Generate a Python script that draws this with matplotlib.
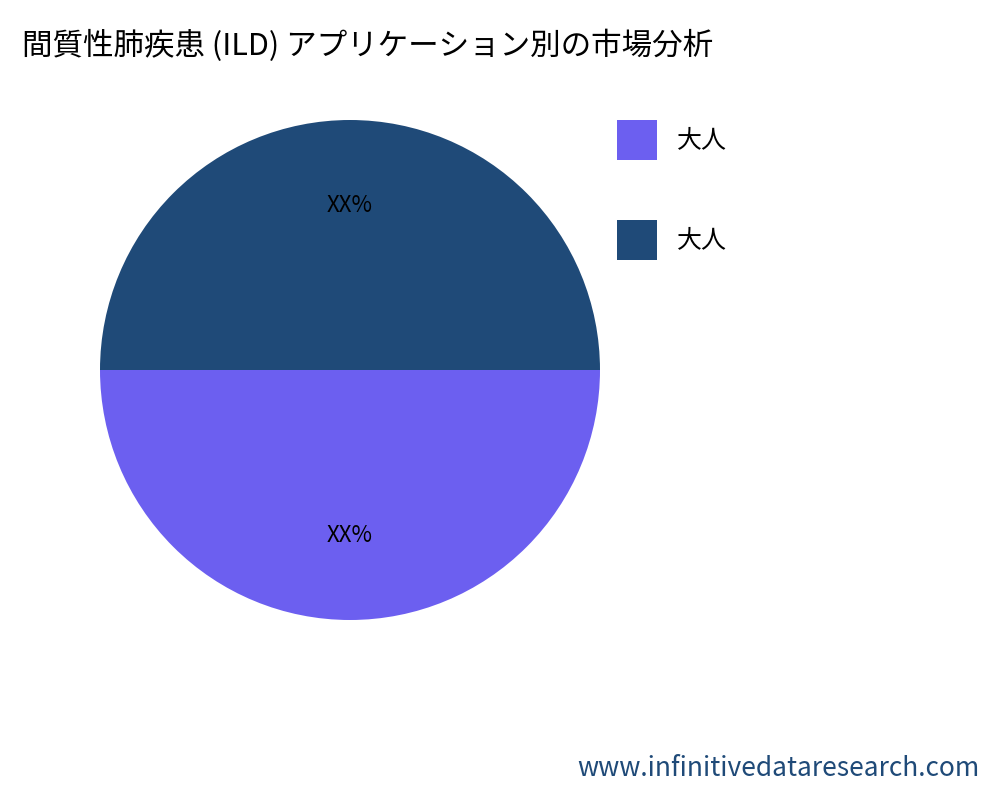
import matplotlib
matplotlib.use("Agg")
import matplotlib.pyplot as plt
from matplotlib.patches import Rectangle

plt.rcParams['font.family'] = ['Noto Sans CJK JP', 'DejaVu Sans']

title = "間質性肺疾患 (ILD) アプリケーション別の市場分析"
categories = ["大人", "大人"]
values = [50, 50]
labels = ["XX%", "XX%"]
colors = ["#6C5FF0", "#1F4A78"]

fig = plt.figure(figsize=(10, 8), dpi=100)
ax = fig.add_axes([0.10, 0.225, 0.5, 0.625])
ax.pie(values, colors=colors, startangle=180, counterclock=True,
       labels=labels, labeldistance=None,
       wedgeprops=dict(linewidth=0))
ax.set_aspect('equal')
ax.set_xlim(-1, 1); ax.set_ylim(-1, 1)
# percentage labels
import numpy as np
ang = 180
for v, lab in zip(values, labels):
    mid = np.deg2rad(ang + v / sum(values) * 360 / 2)
    ax.text(0.72 * np.cos(mid) + 0.26 * 0, 0.66 * np.sin(mid), lab,
            ha='center', va='center', fontsize=16, color='black')
    ang += v / sum(values) * 360

fig.text(0.022, 0.943, title, fontsize=22, ha='left', va='center')

for i, (c, col) in enumerate(zip(categories, colors)):
    y = 1 - (120 + 100 * i + 40) / 800
    fig.patches.append(Rectangle((0.617, y), 0.04, 0.05, transform=fig.transFigure,
                                 facecolor=col, edgecolor='none'))
    fig.text(0.677, y + 0.025, c, fontsize=18, ha='left', va='center')

fig.text(0.98, 0.04, "www.infinitivedataresearch.com", fontsize=19,
         ha='right', va='center', color='#1F4A78')
fig.savefig("out.png", dpi=100)
